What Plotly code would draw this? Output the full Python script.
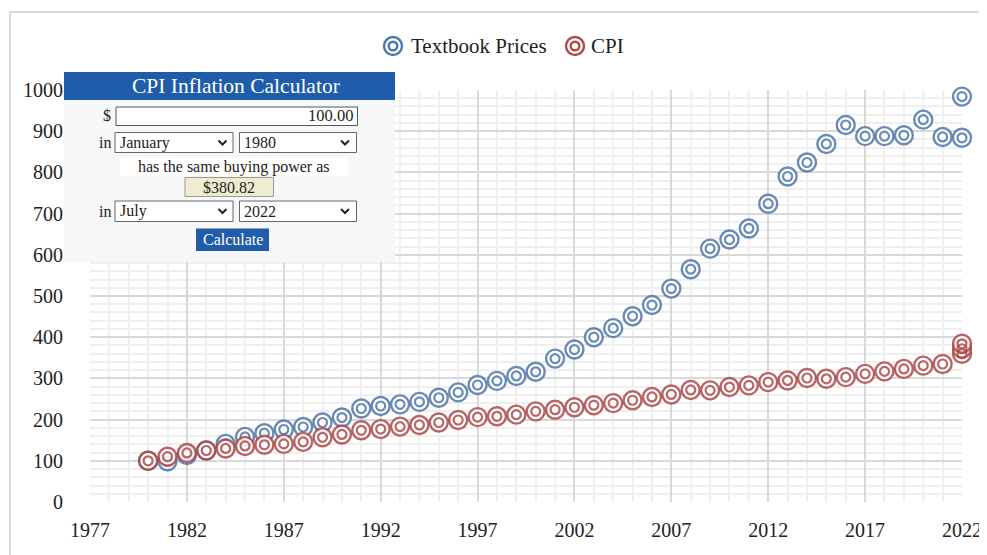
import plotly.graph_objects as go

# ---------------- data ----------------
book_years = list(range(1980, 2023)) + [2022]
book_values = [100, 99, 114, 125, 141, 158, 167, 176, 182, 193, 205, 227, 233, 237,
               243, 253, 266, 284, 294, 306, 316, 348, 370, 400, 422, 451, 478, 518,
               565, 615, 637, 664, 724, 790, 824, 869, 915, 888, 888, 890, 928, 886,
               884, 984]
cpi_years = list(range(1980, 2022)) + [2022, 2022, 2022]
cpi_values = [100, 110, 119, 125, 130, 136, 139, 141, 146, 157, 164, 174, 177, 183,
              187, 193, 199, 206, 208, 212, 220, 224, 230, 235, 240, 247, 255, 261,
              272, 271, 279, 283, 291, 295, 301, 299, 303, 311, 317, 323, 331, 335,
              360, 372, 384]
x_ticks = [1977, 1982, 1987, 1992, 1997, 2002, 2007, 2012, 2017, 2022]
y_ticks = [0, 100, 200, 300, 400, 500, 600, 700, 800, 900, 1000]
series_names = ["Textbook Prices", "CPI"]

BLUE = "#5077aa"
RED = "#b04a4a"
FONT = "Liberation Serif"

# page offset (body margin) and plot area in reference pixels
OFF = 8
FW, FH = 987 - OFF, 555 - OFF
L, T, PW, PH = 90, 90, 872, 412


def px(x):
    return (x - L) / PW


def py(y):
    return (T + PH - y) / PH


fig = go.Figure()


def add_series(xs, ys, color, name):
    fig.add_trace(go.Scatter(
        x=xs, y=ys, mode="markers", name=name, showlegend=False, cliponaxis=False,
        marker=dict(symbol="circle", size=18, color="white", opacity=0.85,
                    line=dict(color=color, width=2.4)),
        hoverinfo="x+y"))
    fig.add_trace(go.Scatter(
        x=xs, y=ys, mode="markers", name=name, showlegend=False, cliponaxis=False,
        marker=dict(symbol="circle-open", size=9, color=color, opacity=0.85,
                    line=dict(color=color, width=2.2)),
        hoverinfo="skip"))


add_series(book_years, book_values, BLUE, series_names[0])
add_series(cpi_years, cpi_values, RED, series_names[1])

shapes = []
# outer frame
shapes.append(dict(type="rect", xref="paper", yref="paper", layer="below",
                   x0=px(10), x1=px(1100), y0=py(700), y1=py(12),
                   line=dict(color="#d9d9d9", width=2), fillcolor="rgba(0,0,0,0)"))


def rect(x0, y0, x1, y1, fill, line=None, lw=1):
    shapes.append(dict(type="rect", xref="paper", yref="paper", layer="above",
                       x0=px(x0), x1=px(x1), y0=py(y1), y1=py(y0),
                       fillcolor=fill,
                       line=dict(color=line if line else fill, width=lw if line else 0)))


def chevron(cx, cy):
    pts = [(cx - 4, cy - 2), (cx, cy + 2), (cx + 4, cy - 2)]
    path = "M {} {} L {} {} L {} {}".format(*[v for p in pts for v in (px(p[0]), py(p[1]))])
    shapes.append(dict(type="path", xref="paper", yref="paper", layer="above",
                       path=path, line=dict(color="#222", width=2)))


def ring(cx, cy, r, color, fill):
    shapes.append(dict(type="circle", xref="paper", yref="paper", layer="above",
                       xsizemode="pixel", ysizemode="pixel",
                       xanchor=px(cx), yanchor=py(cy), x0=-r, x1=r, y0=-r, y1=r,
                       fillcolor=fill, line=dict(color=color, width=2.4)))


# calculator widget
rect(64, 72, 395, 262, "#f7f7f7")
rect(64, 72, 395, 100, "#1f5ca9")
rect(116, 107, 357.5, 125.5, "white", "#555", 1)
rect(115, 132.5, 233, 152.5, "white", "#666", 1)
rect(239.5, 132.5, 356.5, 152.5, "white", "#666", 1)
rect(120, 158, 347.5, 176, "white")
rect(185, 177.5, 273.5, 196.5, "#efecd0", "#999", 1)
rect(115, 201, 233, 221.5, "white", "#666", 1)
rect(239.5, 201, 356.5, 221.5, "white", "#666", 1)
rect(196, 228.5, 269, 251, "#1f5ca9")
for cx, cy in [(222.5, 142.5), (345, 142.5), (222.5, 211), (345, 211)]:
    chevron(cx, cy)

# legend markers
for cx, color in [(393, BLUE), (575, RED)]:
    ring(cx, 46, 9, color, "white")
    ring(cx, 46, 4.3, color, "rgba(0,0,0,0)")

annotations = []


def text(x, y, s, size=16, color="#222", anchor="center"):
    annotations.append(dict(xref="paper", yref="paper", x=px(x), y=py(y), text=s,
                            showarrow=False, xanchor=anchor, yanchor="middle",
                            font=dict(family=FONT, size=size, color=color)))


# legend text
text(409, 46, series_names[0], 21, anchor="left")
text(589, 46, series_names[1], 21, anchor="left")

text(236, 86, "CPI Inflation Calculator", 21.5, "white")
text(106.5, 116, "$", 16)
text(355, 116, "100.00", 16.5, anchor="right")
text(105, 142.5, "in", 16)
text(105, 211, "in", 16)
text(118, 142.5, "January", 16, anchor="left")
text(242, 142.5, "1980", 16, anchor="left")
text(118, 211, "July", 16, anchor="left")
text(242, 211, "2022", 16, anchor="left")
text(234, 167, "has the same buying power as", 16)
text(229, 187, "$380.82", 16)
text(232.5, 239.5, "Calculate", 16, "white")

fig.update_layout(
    width=FW, height=FH,
    margin=dict(l=L - OFF, r=FW - (L - OFF) - PW, t=T - OFF, b=FH - (T - OFF) - PH,
                autoexpand=False),
    paper_bgcolor="white", plot_bgcolor="white",
    font=dict(family=FONT, size=20, color="#222"),
    showlegend=False,
    shapes=shapes, annotations=annotations,
)
fig.update_xaxes(range=[1977, 2022], tickvals=x_ticks, ticktext=[str(v) for v in x_ticks],
                 showgrid=True, gridcolor="#d9d9d9", gridwidth=2, zeroline=False,
                 showline=False, ticks="", ticklabelstandoff=14, tickangle=0, automargin=False,
                 tickfont=dict(family=FONT, size=20, color="#222"),
                 minor=dict(dtick=1, tick0=1977, showgrid=True, gridcolor="#efefef", gridwidth=2))
fig.update_yaxes(range=[0, 1000], tickvals=y_ticks, ticktext=[str(v) for v in y_ticks],
                 showgrid=True, gridcolor="#d9d9d9", gridwidth=2, zeroline=False,
                 showline=False, ticks="", ticklabelstandoff=26, automargin=False,
                 tickfont=dict(family=FONT, size=20, color="#222"),
                 minor=dict(dtick=20, tick0=0, showgrid=True, gridcolor="#efefef", gridwidth=2))

fig.write_html("out.html")
